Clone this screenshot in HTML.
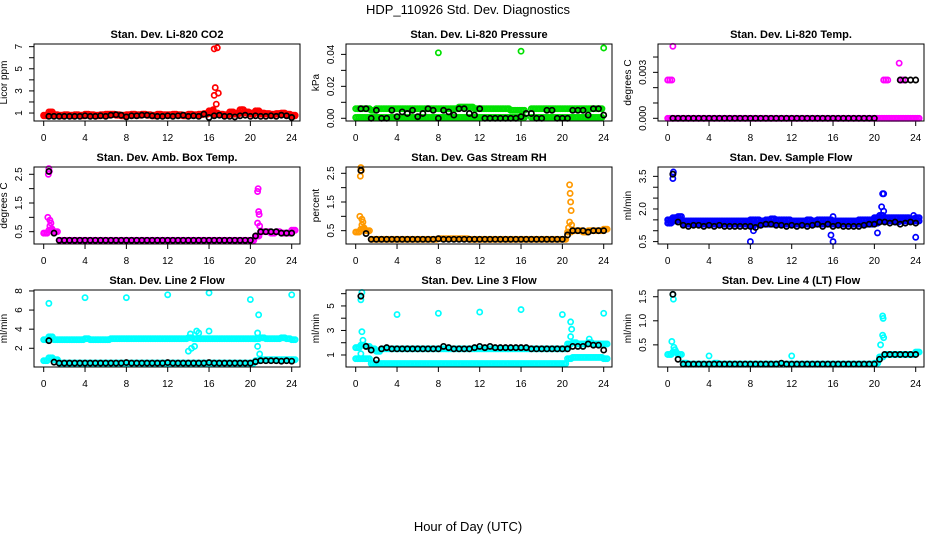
<!DOCTYPE html>
<html><head><meta charset="utf-8"><style>
html,body{margin:0;padding:0;background:#fff}
svg{display:block;font-family:"Liberation Sans",Arial,sans-serif}
</style></head><body>
<svg id="chart" width="936" height="540" viewBox="0 0 936 540" xmlns="http://www.w3.org/2000/svg">
<rect x="0" y="0" width="936" height="540" fill="#fff"/>
<text x="468" y="14" font-size="13" text-anchor="middle">HDP_110926  Std. Dev. Diagnostics</text>
<text x="468" y="531" font-size="13" text-anchor="middle">Hour of Day (UTC)</text>
<g id="panels"></g>
</svg>
<script>
// ---- data (x for series arrays = index * 0.5 hours) ----
const xTicks = [0,4,8,12,16,20,24];
const titles = ["Stan. Dev. Li-820 CO2","Stan. Dev. Li-820 Pressure","Stan. Dev. Li-820 Temp.","Stan. Dev. Amb. Box Temp.","Stan. Dev. Gas Stream RH","Stan. Dev. Sample Flow","Stan. Dev. Line 2 Flow","Stan. Dev. Line 3 Flow","Stan. Dev. Line 4 (LT) Flow"];
const yLabels = ["Licor ppm","kPa","degrees C","degrees C","percent","ml/min","ml/min","ml/min","ml/min"];
const yLo = [0.28,-0.0017,-0.000176,0.071,0.035,0.39,0.04,0.02,0.04];
const yHi = [7.24,0.0465,0.00485,2.754,2.72,3.93,8.1,6.3,1.64];
const yTicks = [[1,2,3,4,5,6,7],[0,0.01,0.02,0.03,0.04],[0,0.001,0.002,0.003,0.004],[0.5,1,1.5,2,2.5],[0.5,1,1.5,2,2.5],[0.5,1,1.5,2,2.5,3,3.5],[2,4,6,8],[1,2,3,4,5,6],[0.5,1,1.5]];
const yTickLabels = [["1","","3","","5","","7"],["0.00","","0.02","","0.04"],["0.000","","","0.003",""],["0.5","","1.5","","2.5"],["0.5","","1.5","","2.5"],["0.5","","","2.0","","","3.5"],["2","4","6","8"],["1","","3","","5",""],["0.5","1.0","1.5"]];
const colors = ["#ff0000","#00e000","#ff00ff","#ff00ff","#ff9900","#0000ff","#00ffff","#00ffff","#00ffff"];

const c1 = [[0.8,1.1,0.85,0.8,0.85,0.8,0.85,0.8,0.9,0.85,0.8,0.85,0.9,0.9,0.85,0.8,0.85,0.9,0.85,0.9,0.85,0.8,0.9,0.85,0.85,0.9,0.85,0.8,0.9,0.85,0.9,0.95,1.2,1.0,0.9,0.85,1.1,1.0,1.3,1.1,1.0,1.2,1.0,0.95,0.9,0.95,1.0,0.9,0.8],
 [0.006,0.006,0.006,0.005,0.006,0.006,0.006,0.006,0.006,0.006,0.006,0.006,0.006,0.006,0.006,0.006,0.006,0.006,0.006,0.006,0.007,0.007,0.007,0.006,0.006,0.006,0.006,0.006,0.006,0.006,0.005,0.005,0.005,null,0.006,0.006,0.006,0.006,0.006,0.006,0.006,0.006,0.006,0.006,0.006,0.006,0.006,0.006,null],
 [0,0,0,0,0,0,0,0,0,0,0,0,0,0,0,0,0,0,0,0,0,0,0,0,0,0,0,0,0,0,0,0,0,0,0,0,0,0,0,0,0,0,0,0,0,0,0,0,0],
 [0.45,0.55,0.5,0.2,0.2,0.2,0.2,0.2,0.2,0.2,0.2,0.2,0.2,0.2,0.2,0.2,0.2,0.2,0.2,0.2,0.2,0.2,0.2,0.2,0.2,0.2,0.2,0.2,0.2,0.2,0.2,0.2,0.2,0.2,0.2,0.2,0.2,0.2,0.2,0.2,0.2,0.35,0.5,0.5,0.45,0.5,0.45,0.45,0.55],
 [0.45,0.55,0.5,0.2,0.2,0.2,0.2,0.2,0.2,0.2,0.2,0.2,0.2,0.2,0.2,0.2,0.22,0.22,0.22,0.22,0.22,0.22,0.2,0.2,0.2,0.2,0.2,0.2,0.2,0.2,0.2,0.2,0.2,0.2,0.2,0.2,0.2,0.2,0.2,0.2,0.2,0.45,0.5,0.5,0.45,0.5,0.5,0.5,0.55],
 [1.5,1.6,1.65,1.45,1.45,1.45,1.45,1.45,1.45,1.45,1.45,1.45,1.45,1.45,1.45,1.45,1.5,1.5,1.45,1.5,1.55,1.5,1.5,1.5,1.45,1.45,1.45,1.5,1.45,1.5,1.5,1.5,1.45,1.45,1.45,1.45,1.45,1.5,1.5,1.5,1.6,1.7,1.6,1.6,1.6,1.6,1.6,1.55,1.6],
 [2.9,3.2,2.9,2.9,2.9,2.9,2.9,2.9,3.0,2.9,2.9,2.9,2.9,3.0,3.0,3.0,3.0,3.0,3.0,3.0,3.0,3.0,3.0,3.0,3.0,3.0,3.0,3.0,3.1,3.0,3.0,3.0,3.0,3.0,3.0,3.0,3.0,3.0,3.0,3.0,3.0,3.0,3.1,3.0,3.0,3.0,3.1,3.0,2.9],
 [1.6,1.8,1.7,1.5,1.3,1.5,1.5,1.5,1.5,1.5,1.5,1.5,1.5,1.5,1.5,1.5,1.5,1.5,1.5,1.5,1.5,1.5,1.5,1.5,1.5,1.5,1.5,1.5,1.5,1.5,1.5,1.5,1.5,1.5,1.5,1.5,1.5,1.5,1.5,1.5,1.5,1.9,2.0,1.9,1.9,2.0,1.9,1.9,1.9],
 [0.3,0.35,0.3,0.12,0.1,0.1,0.1,0.1,0.1,0.12,0.1,0.1,0.1,0.1,0.1,0.1,0.1,0.1,0.1,0.1,0.1,0.1,0.1,0.1,0.1,0.1,0.1,0.1,0.1,0.1,0.1,0.1,0.1,0.1,0.1,0.1,0.1,0.1,0.1,0.1,0.12,0.25,0.3,0.3,0.3,0.3,0.3,0.3,0.35]];
const c2 = [[0.75,0.9,0.8,0.75,0.8,0.75,0.8,0.75,0.8,0.8,0.75,0.8,0.8,0.85,0.8,0.75,0.8,0.8,0.8,0.85,0.8,0.75,0.8,0.8,0.8,0.85,0.8,0.75,0.8,0.8,0.85,0.9,1.0,0.9,0.85,0.8,0.9,0.9,1.0,1.0,0.9,1.0,0.9,0.9,0.85,0.9,0.9,0.85,0.75],
 [0.0005,0.0005,0.0005,0.0005,0.0005,0.0005,0.0005,0.0005,0.0005,0.0005,0.0005,0.0005,0.0005,0.0005,0.0005,0.0005,0.0005,0.0005,0.0005,0.0005,0.0005,0.0005,0.0005,0.0005,0.0005,0.0005,0.0005,0.0005,0.0005,0.0005,0.0005,0.0005,0.0005,null,0.0005,0.0005,0.0005,0.0005,0.0005,0.0005,0.0005,0.0005,0.0005,0.0005,0.0005,0.0005,0.0005,0.0005,null],
 null,null,null,
 [1.35,1.45,1.5,1.3,1.3,1.3,1.3,1.3,1.3,1.3,1.3,1.3,1.3,1.3,1.3,1.3,1.25,1.3,1.3,1.3,1.3,1.3,1.3,1.3,1.3,1.3,1.3,1.3,1.3,1.3,1.3,1.3,1.3,1.3,1.3,1.3,1.3,1.3,1.3,1.3,1.35,1.45,1.45,1.45,1.4,1.45,1.45,1.45,1.45],
 [0.7,1.0,0.8,0.45,0.45,0.45,0.45,0.45,0.45,0.45,0.45,0.45,0.45,0.45,0.45,0.45,0.45,0.45,0.45,0.45,0.45,0.45,0.45,0.45,0.45,0.45,0.45,0.45,0.45,0.45,0.45,0.45,0.45,0.45,0.45,0.45,0.45,0.45,0.45,0.45,0.45,0.7,0.8,0.8,0.8,0.8,0.8,0.8,0.8],
 [0.7,0.7,0.7,0.3,0.3,0.3,0.3,0.3,0.3,0.3,0.3,0.3,0.3,0.3,0.3,0.3,0.3,0.3,0.3,0.3,0.3,0.3,0.3,0.3,0.3,0.3,0.3,0.3,0.3,0.3,0.3,0.3,0.3,0.3,0.3,0.3,0.3,0.3,0.3,0.3,0.3,0.7,0.8,0.8,0.8,0.8,0.8,0.8,0.7],
 null];
const extraCX = [[16.5,16.8,16.6,16.5,16.9,16.7,16.4,16.3,19.2],[8,16,24],[0,0.2,0.4,0.5,20.9,21.1,21.3,22.4,22.6,22.8],[0.45,0.5,0.55,0.4,0.6,0.7,0.6,0.8,20.7,20.75,20.8,20.85,20.7,20.9],[0.45,0.5,0.55,0.4,0.6,0.7,0.6,0.8,20.7,20.75,20.8,20.85,20.7,20.9,20.6],[0.5,0.5,0.55,8,16,24,20.8,20.9,20.7,20.9,20.5,20.3,15.8,8.3,23.8,16],[0.5,4,8,12,16,20,24,20.8,20.7,20.9,14,14.3,14.6,14.8,15,16,14.2,20.7],[0.5,0.6,4,8,12,16,20,24,20.8,20.9,20.8,0.6,0.7,0.5,22.6],[0.5,0.55,0.4,0.6,0.7,4,12,20.8,20.85,20.8,20.9,20.6,20.5]];
const extraCY = [[6.8,6.9,3.3,2.6,2.8,1.8,1.3,1.2,1.3],[0.041,0.042,0.044],[0.0025,0.0025,0.0025,0.0047,0.0025,0.0025,0.0025,0.0036,0.0025,0.0025],[2.5,2.7,2.6,1.0,0.9,0.8,0.7,0.6,1.9,2.0,1.2,1.1,0.8,0.7],[2.4,2.7,2.6,1.0,0.9,0.8,0.7,0.6,2.1,1.8,1.5,1.2,0.8,0.7,0.6],[3.6,3.4,3.7,0.5,0.5,0.7,2.7,2.7,2.1,1.9,1.6,0.9,0.8,1.0,1.7,1.65],[6.7,7.3,7.3,7.6,7.8,7.1,7.6,5.5,2.2,1.4,1.7,2.0,2.2,3.8,3.6,3.8,3.5,3.6],[5.5,6.1,4.3,4.4,4.5,4.7,4.3,4.4,3.7,3.1,2.5,2.9,2.2,1.1,2.3],[1.55,1.45,0.57,0.45,0.4,0.27,0.27,1.1,1.05,0.7,0.65,0.5,0.2]];
const blackY = [
 [null,0.7,0.7,0.7,0.7,0.7,0.7,0.7,0.75,0.7,0.7,0.75,0.7,0.8,0.85,0.8,0.65,0.75,0.75,0.8,0.8,0.75,0.7,0.7,0.75,0.7,0.75,0.8,0.7,0.75,0.7,0.9,0.6,0.75,0.8,0.7,0.7,0.65,0.75,0.8,0.7,0.75,0.7,0.7,0.75,0.7,0.8,0.75,0.6],
 [null,0.006,0.006,0.0,0.005,0.0,0.0,0.005,0.001,0.004,0.003,0.005,0.001,0.003,0.006,0.005,0.0,0.005,0.004,0.002,0.006,0.006,0.003,0.002,0.006,0.0,0.0,0.0,0.0,0.0,0.0,0.0,0.001,0.003,0.003,0.0,0.0,0.005,0.005,0.0,0.0,0.0,0.005,0.005,0.005,0.002,0.006,0.006,0.002],
 [null,0,0,0,0,0,0,0,0,0,0,0,0,0,0,0,0,0,0,0,0,0,0,0,0,0,0,0,0,0,0,0,0,0,0,0,0,0,0,0,0,null,null,null,null,0.0025,0.0025,0.0025,0.0025],
 [null,2.6,0.45,0.2,0.2,0.2,0.2,0.2,0.2,0.2,0.2,0.2,0.2,0.2,0.2,0.2,0.2,0.2,0.2,0.2,0.2,0.2,0.2,0.2,0.2,0.2,0.2,0.2,0.2,0.2,0.2,0.2,0.2,0.2,0.2,0.2,0.2,0.2,0.2,0.2,0.2,0.35,0.5,0.5,0.5,0.5,0.45,0.45,0.45],
 [null,2.6,0.4,0.2,0.2,0.2,0.2,0.2,0.2,0.2,0.2,0.2,0.2,0.2,0.2,0.2,0.22,0.2,0.2,0.2,0.2,0.2,0.2,0.2,0.2,0.2,0.2,0.2,0.2,0.2,0.2,0.2,0.2,0.2,0.2,0.2,0.2,0.2,0.2,0.2,0.2,0.35,0.5,0.5,0.5,0.45,0.5,0.5,0.5],
 [null,3.6,1.4,1.25,1.2,1.25,1.25,1.2,1.25,1.2,1.25,1.2,1.2,1.2,1.2,1.2,1.2,1.15,1.25,1.3,1.3,1.25,1.25,1.2,1.25,1.2,1.25,1.2,1.25,1.3,1.2,1.3,1.2,1.25,1.2,1.2,1.2,1.2,1.25,1.3,1.3,1.4,1.4,1.35,1.4,1.3,1.35,1.4,1.35],
 [null,2.8,0.55,0.45,0.45,0.45,0.45,0.45,0.45,0.45,0.45,0.45,0.45,0.45,0.45,0.45,0.5,0.45,0.45,0.45,0.45,0.45,0.45,0.45,0.5,0.45,0.45,0.45,0.45,0.45,0.45,0.45,0.5,0.45,0.45,0.45,0.45,0.45,0.45,0.45,0.45,0.6,0.7,0.7,0.7,0.7,0.65,0.7,0.65],
 [null,5.8,1.7,1.4,0.6,1.5,1.6,1.5,1.5,1.5,1.5,1.5,1.5,1.5,1.5,1.5,1.5,1.7,1.6,1.5,1.5,1.5,1.5,1.6,1.7,1.6,1.7,1.6,1.6,1.6,1.6,1.6,1.6,1.6,1.5,1.5,1.5,1.5,1.5,1.5,1.5,1.5,1.7,1.7,1.7,1.9,1.8,1.8,1.4],
 [null,1.55,0.2,0.1,0.1,0.1,0.1,0.1,0.1,0.1,0.1,0.1,0.1,0.1,0.1,0.1,0.1,0.1,0.1,0.1,0.1,0.1,0.12,0.1,0.1,0.1,0.1,0.1,0.1,0.1,0.1,0.1,0.1,0.1,0.1,0.1,0.1,0.1,0.1,0.1,0.1,0.2,0.3,0.3,0.3,0.3,0.3,0.3,0.3]];

// ---- layout ----
const colLeft = [34,346,658], rowTop = [44,167,290], boxW = 266, boxH = 77;
const NS = "http://www.w3.org/2000/svg";
const root = document.getElementById("panels");
function mk(tag, attrs, parent){ const e=document.createElementNS(NS,tag); for(const k in attrs) e.setAttribute(k,attrs[k]); parent.appendChild(e); return e; }

for(let p=0;p<9;p++){
  const L = colLeft[p%3], T = rowTop[Math.floor(p/3)], B = T+boxH;
  const xs = v => L + 9.7 + v*(248/24);
  const ys = v => B - (v - yLo[p])/(yHi[p]-yLo[p])*boxH;
  const g = mk("g",{},root);
  
  
  const t = mk("text",{x:L+boxW/2,y:T-6,"font-size":"11","font-weight":"bold","text-anchor":"middle"},g);
  t.textContent = titles[p];
  
  
  const xa = mk("g",{stroke:"#000","stroke-width":"1"},g);
  
  
  mk("line",{x1:xs(xTicks[0]),x2:xs(xTicks[xTicks.length-1]),y1:B,y2:B},xa);
  xTicks.forEach(v=>{
    mk("line",{x1:xs(v),x2:xs(v),y1:B,y2:B+5},xa);
    const lt = mk("text",{x:xs(v),y:B+20,"font-size":"10","text-anchor":"middle",stroke:"none"},g);
    lt.textContent = v;
    
    
  });
  const ya = mk("g",{stroke:"#000","stroke-width":"1"},g);
  
  
  const tk = yTicks[p];
  mk("line",{x1:L,x2:L,y1:ys(tk[0]),y2:ys(tk[tk.length-1])},ya);
  tk.forEach((v,i)=>{
    mk("line",{x1:L-5,x2:L,y1:ys(v),y2:ys(v)},ya);
    const s = yTickLabels[p][i];
    if(s){
      const yy = ys(v), xx = L-12;
      const lt = mk("text",{x:xx,y:yy,"font-size":"10","text-anchor":"middle",transform:`rotate(-90 ${xx} ${yy})`},g);
      lt.textContent = s;
      
      
    }
  });
  const yl = mk("text",{x:L-27,y:T+boxH/2,"font-size":"10","text-anchor":"middle",transform:`rotate(-90 ${L-27} ${T+boxH/2})`},g);
  yl.textContent = yLabels[p];
  
  
  const col = colors[p];
  const pts = mk("g",{fill:"none","stroke-width":"1.7"},g);
  
  
  function dot(x,y,c){
    const ci = mk("circle",{cx:xs(x),cy:ys(y),r:2.6,stroke:c},pts);
    
    
  }
  [c1[p], c2[p]].forEach(arr=>{ if(arr) arr.forEach((v,i)=>{ if(v!==null){ dot(i*0.5,v,col); dot(i*0.5+0.17,v,col); dot(i*0.5+0.33,v,col);} }); });
  extraCX[p].forEach((x,i)=>dot(x,extraCY[p][i],col));
  blackY[p].forEach((v,i)=>{ if(v!==null) dot(i*0.5,v,"#000"); });
  const bx = mk("rect",{x:L,y:T,width:boxW,height:boxH,fill:"none",stroke:"#000","stroke-width":"1"},g);
  
  
}
</script>
</body></html>
